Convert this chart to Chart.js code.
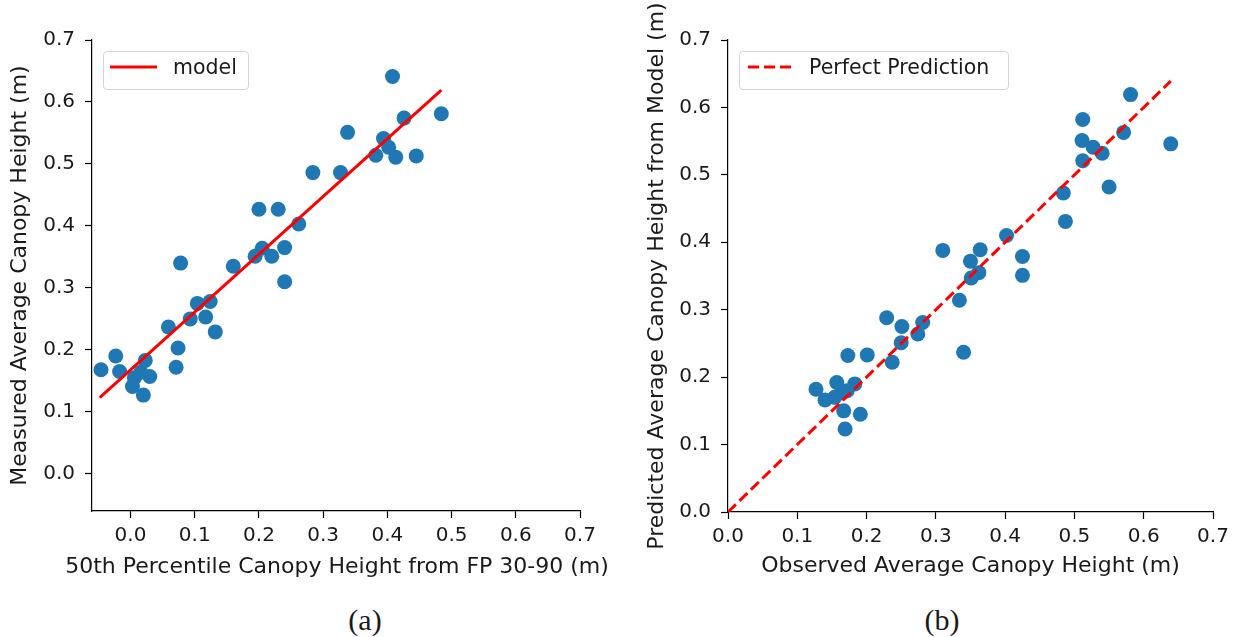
<!DOCTYPE html>
<html>
<head>
<meta charset="utf-8">
<script src="https://cdn.jsdelivr.net/npm/chart.js@4.4.0/dist/chart.umd.min.js"></script>
<style>
  body { margin: 0; background: #fff; }
  #page { position: relative; width: 1243px; height: 637px; font-family: 'DejaVu Sans', sans-serif; color: #1a1a1a; }
  canvas { position: absolute; top: 0; }
  #chartA { left: 0; }
  #chartB { left: 620px; }
  .legend { position: absolute; top: 51px; height: 37px; border: 1px solid #d4d4d4; border-radius: 4px;
            background: rgba(255,255,255,0.8); font-size: 20.5px; }
  .legend svg { position: absolute; left: 6px; top: 12px; }
  .legend span { position: absolute; top: 2px; left: 69px; line-height: 26px; white-space: nowrap; }
  .xtitle { position: absolute; top: 553px; font-size: 22px; line-height: 26px; white-space: nowrap;
            transform: translateX(-50%); }
  .caption { position: absolute; top: 605px; font-family: 'Liberation Serif', serif; font-size: 30px;
             line-height: 30px; transform: translateX(-50%); }
</style>
</head>
<body>
<div id="page">
  <canvas id="chartA" width="620" height="590"></canvas>
  <canvas id="chartB" width="623" height="590"></canvas>

  <!-- wider than the plot area, so kept out of the scale's title box -->
  <div class="xtitle" style="left:337px;">50th Percentile Canopy Height from FP 30-90 (m)</div>

  <div class="legend" style="left:103px; width:144px;">
    <svg width="47" height="6"><line x1="0" y1="3" x2="47" y2="3" stroke="#ff0000" stroke-width="3"/></svg>
    <span>model</span>
  </div>
  <div class="legend" style="left:739px; width:268px;">
    <svg width="46" height="6" style="left:8px"><line x1="0" y1="3" x2="46" y2="3" stroke="#ff0000" stroke-width="3" stroke-dasharray="11 5"/></svg>
    <span>Perfect Prediction</span>
  </div>

  <div class="caption" style="left:365px;">(a)</div>
  <div class="caption" style="left:942px;">(b)</div>
</div>

<script>
// (a) FP 30-90 percentile vs measured canopy height
const percentileX = [-0.046, -0.023, -0.017, 0.003, 0.006, 0.016, 0.020, 0.023, 0.030, 0.059,
  0.071, 0.074, 0.078, 0.093, 0.104, 0.117, 0.124, 0.132, 0.160, 0.194,
  0.200, 0.205, 0.220, 0.230, 0.240, 0.240, 0.262, 0.284, 0.327, 0.338,
  0.382, 0.394, 0.402, 0.408, 0.413, 0.426, 0.445, 0.484];
const measuredY = [0.168, 0.190, 0.165, 0.141, 0.155, 0.164, 0.127, 0.183, 0.157, 0.237,
  0.172, 0.203, 0.340, 0.250, 0.275, 0.253, 0.278, 0.229, 0.335, 0.351,
  0.427, 0.364, 0.351, 0.427, 0.365, 0.310, 0.403, 0.486, 0.486, 0.551,
  0.514, 0.541, 0.527, 0.641, 0.511, 0.574, 0.513, 0.581];
const modelLineX = [-0.048, 0.484];
const modelLineY = [0.123, 0.619];

// (b) observed vs predicted canopy height
const observedX = [0.127, 0.140, 0.154, 0.157, 0.165, 0.167, 0.169, 0.172, 0.173, 0.183,
  0.191, 0.201, 0.229, 0.237, 0.250, 0.251, 0.274, 0.281, 0.310, 0.334,
  0.340, 0.350, 0.351, 0.362, 0.364, 0.402, 0.425, 0.425, 0.484, 0.487,
  0.511, 0.512, 0.512, 0.527, 0.540, 0.550, 0.571, 0.581, 0.639];
const predictedY = [0.182, 0.166, 0.170, 0.192, 0.177, 0.150, 0.123, 0.180, 0.232, 0.190,
  0.145, 0.233, 0.288, 0.222, 0.251, 0.275, 0.264, 0.281, 0.388, 0.314,
  0.237, 0.372, 0.347, 0.355, 0.389, 0.410, 0.379, 0.351, 0.473, 0.431,
  0.551, 0.582, 0.521, 0.541, 0.532, 0.482, 0.563, 0.619, 0.546];
const perfectLine = [0, 0.639];

const tickValues = [0, 0.1, 0.2, 0.3, 0.4, 0.5, 0.6, 0.7];

const textColor = '#1a1a1a';
const tickFont = { family: 'DejaVu Sans', size: 20 };
const titleFont = { family: 'DejaVu Sans', size: 22 };

const toPoints = (xs, ys) => xs.map((x, i) => ({ x: x, y: ys[i] }));

function axis(min, opts) {
  return {
    type: 'linear',
    min: min,
    max: 0.7,
    afterBuildTicks: scale => { scale.ticks = tickValues.map(v => ({ value: v })); },
    afterFit: scale => {
      if (opts.width) scale.width = opts.width;
      if (opts.height) scale.height = opts.height;
    },
    border: { display: true, color: '#000', width: 1.2 },
    grid: { drawOnChartArea: false, drawTicks: true, tickLength: 7, color: '#000', tickWidth: 1.2 },
    ticks: { color: textColor, font: tickFont, padding: opts.padding, callback: v => v.toFixed(1) },
    title: { display: !!opts.title, text: opts.title, color: textColor, font: titleFont, padding: opts.titlePadding }
  };
}

function makeChart(id, lineData, lineDash, points, x, y, padRight) {
  return new Chart(document.getElementById(id), {
    type: 'scatter',
    data: {
      datasets: [
        {
          type: 'line',
          data: lineData,
          borderColor: '#ff0000',
          borderWidth: 3,
          borderDash: lineDash,
          pointRadius: 0,
          fill: false
        },
        {
          data: points,
          backgroundColor: '#1f77b4',
          borderWidth: 0,
          pointRadius: 7.5,
          pointHoverRadius: 7.5
        }
      ]
    },
    options: {
      responsive: false,
      animation: false,
      devicePixelRatio: 1,
      layout: { padding: { left: 0, top: 40, right: padRight, bottom: 0 } },
      plugins: { legend: { display: false }, tooltip: { enabled: false } },
      scales: { x: x, y: y }
    }
  });
}

makeChart('chartA',
  toPoints(modelLineX, modelLineY), [],
  toPoints(percentileX, measuredY),
  axis(-0.06, { height: 79, padding: 6, title: '' }),
  axis(-0.06, { width: 92, padding: 10, title: 'Measured Average Canopy Height (m)', titlePadding: { top: 7, bottom: 0 } }),
  40);

makeChart('chartB',
  toPoints(perfectLine, perfectLine), [11, 5],
  toPoints(observedX, predictedY),
  axis(0, { height: 78, padding: 6, title: 'Observed Average Canopy Height (m)', titlePadding: { top: 0, bottom: 11 } }),
  axis(0, { width: 108, padding: 10, title: 'Predicted Average Canopy Height from Model (m)', titlePadding: { top: 24, bottom: 0 } }),
  30);
</script>
</body>
</html>
